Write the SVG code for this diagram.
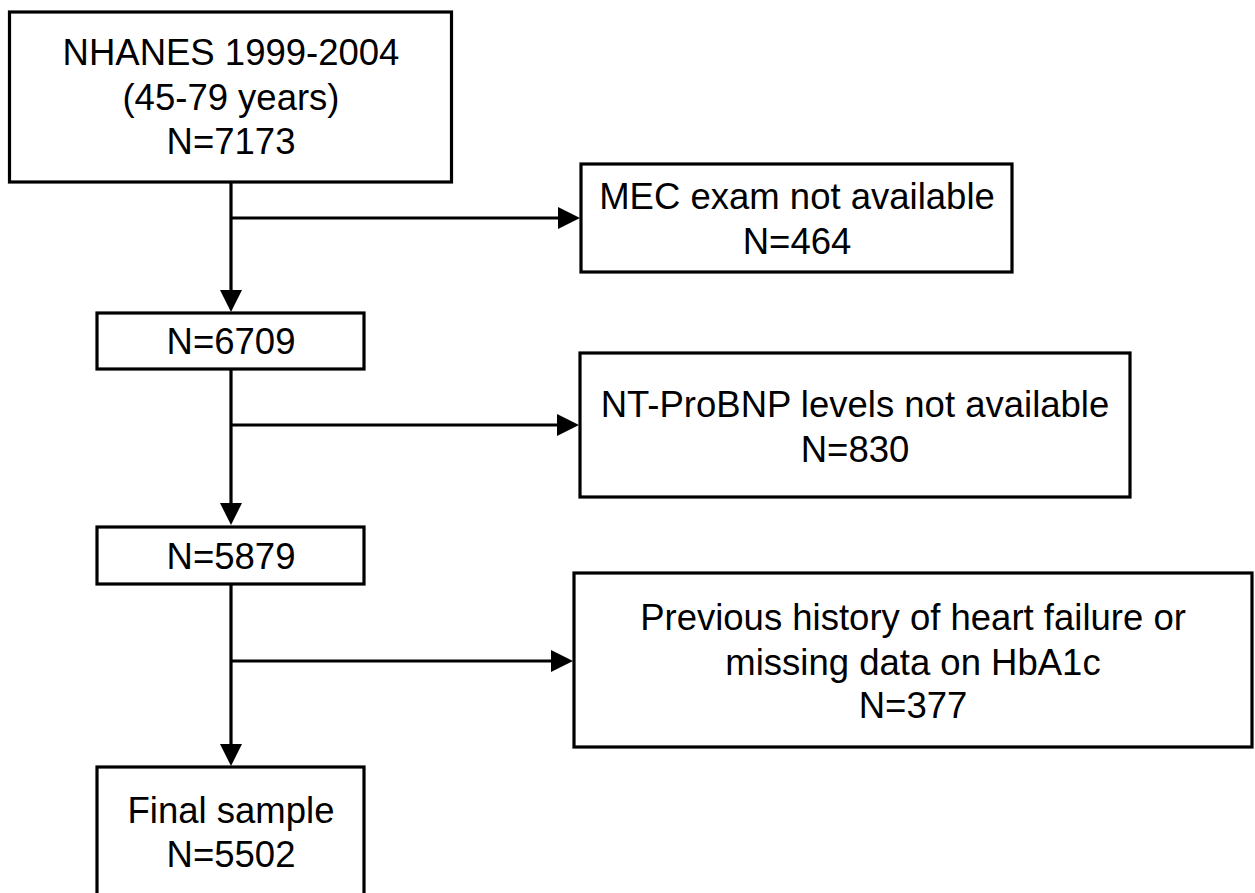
<svg xmlns="http://www.w3.org/2000/svg" width="1255" height="893" viewBox="0 0 1255 893">
<defs>
<style>
.box{fill:#fff;stroke:#000;stroke-width:3.2}
.ln{fill:none;stroke:#000;stroke-width:3.2}
.t{font-family:"Liberation Sans",Arial,sans-serif;font-size:36.5px;fill:#000;text-anchor:middle}
</style>
<marker id="ah" markerUnits="userSpaceOnUse" markerWidth="24" markerHeight="24" refX="12" refY="11" orient="auto" viewBox="0 0 24 24">
<path d="M0,0 L22,11 L0,22 z" fill="#000"/>
</marker>
</defs>
<rect width="1255" height="893" fill="#fff"/>
<g id="connectors">
<path class="ln" d="M231,182 V302" marker-end="url(#ah)"/>
<path class="ln" d="M231,218 H570" marker-end="url(#ah)"/>
<path class="ln" d="M231,369 V515" marker-end="url(#ah)"/>
<path class="ln" d="M231,425 H569" marker-end="url(#ah)"/>
<path class="ln" d="M231,584 V756" marker-end="url(#ah)"/>
<path class="ln" d="M231,661 H563" marker-end="url(#ah)"/>
</g>
<g id="n_start">
<rect class="box" x="9.5" y="12" width="442" height="170"/>
<text class="t" x="231" y="65">NHANES 1999-2004</text>
<text class="t" x="231" y="110">(45-79 years)</text>
<text class="t" x="231" y="154">N=7173</text>
</g>
<g id="n_mec">
<rect class="box" x="581" y="164" width="431" height="108"/>
<text class="t" x="797" y="209">MEC exam not available</text>
<text class="t" x="797" y="254">N=464</text>
</g>
<g id="n_6709">
<rect class="box" x="97" y="313" width="267" height="56"/>
<text class="t" x="231" y="354">N=6709</text>
</g>
<g id="n_nt">
<rect class="box" x="580" y="353" width="550" height="144"/>
<text class="t" x="855" y="417">NT-ProBNP levels not available</text>
<text class="t" x="855" y="462">N=830</text>
</g>
<g id="n_5879">
<rect class="box" x="97" y="527" width="267" height="57"/>
<text class="t" x="231" y="569">N=5879</text>
</g>
<g id="n_prev">
<rect class="box" x="574" y="573" width="678" height="174"/>
<text class="t" x="913" y="630">Previous history of heart failure or</text>
<text class="t" x="913" y="675">missing data on HbA1c</text>
<text class="t" x="913" y="718">N=377</text>
</g>
<g id="n_final">
<rect class="box" x="97" y="767" width="267" height="140"/>
<text class="t" x="231" y="823">Final sample</text>
<text class="t" x="231" y="867">N=5502</text>
</g>
</svg>
